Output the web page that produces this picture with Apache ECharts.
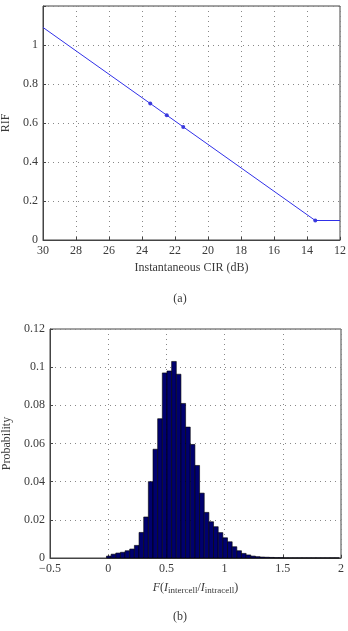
<!DOCTYPE html>
<html>
<head>
<meta charset="utf-8">
<script src="https://cdn.jsdelivr.net/npm/echarts@6/dist/echarts.min.js"></script>
<style>
  html, body { margin: 0; padding: 0; background: #fff; }
  #main { width: 348px; height: 631px; }
</style>
</head>
<body>
<div id="main"></div>
<script>
// (a) RIF against instantaneous CIR
var cirLine = [30, 23.5, 22.5, 21.5, 13.5, 12];
var rifLine = [1.09, 0.70, 0.64, 0.58, 0.10, 0.10];
var cirMarks = [23.5, 22.5, 21.5, 13.5];
var rifMarks = [0.70, 0.64, 0.58, 0.10];

// (b) histogram, bin width 0.04
var binWidth = 0.04;
var binCenters = [0.005, 0.045, 0.085, 0.125, 0.165, 0.205, 0.245, 0.285, 0.325, 0.365,
  0.405, 0.445, 0.485, 0.525, 0.565, 0.605, 0.645, 0.685, 0.725, 0.765,
  0.805, 0.845, 0.885, 0.925, 0.965, 1.005, 1.045, 1.085, 1.125, 1.165,
  1.205, 1.245, 1.285, 1.325, 1.365, 1.405, 1.445, 1.485, 1.525, 1.565,
  1.605, 1.645, 1.685, 1.725, 1.765, 1.805, 1.845, 1.885, 1.925, 1.965];
var probs = [0.0010, 0.0020, 0.0026, 0.0030, 0.0038, 0.0047, 0.0066, 0.0134, 0.0215, 0.0400,
  0.0570, 0.0730, 0.0970, 0.0980, 0.1030, 0.0963, 0.0810, 0.0686, 0.0595, 0.0485,
  0.0340, 0.0239, 0.0190, 0.0164, 0.0133, 0.0106, 0.0085, 0.0059, 0.0038, 0.0024,
  0.0016, 0.0010, 0.0007, 0.0005, 0.0004, 0.0003, 0.0002, 0.0002, 0.0001, 0.0001,
  0.0001, 0.0001, 0.0001, 0.0001, 0.0001, 0.0001, 0.0001, 0.0001, 0.0001, 0.0001];

var serif = '"Liberation Serif", "DejaVu Serif", serif';
var txt = '#3a3a3a';

function zip(a, b) {
  return a.map(function (v, i) { return [v, b[i]]; });
}

function fmt(v) {
  return String(parseFloat(v.toFixed(2))).replace('-', '\u2212');
}

var gridLine = { show: true, lineStyle: { color: '#888', type: [1, 4], width: 1 } };
var axLine = { show: true, onZero: false, lineStyle: { color: '#444', width: 1 } };
var tick = { show: true, inside: true, length: 3, lineStyle: { color: '#444' } };

var myChart = echarts.init(document.getElementById('main'));
var option = {
  animation: false,
  textStyle: { fontFamily: serif },
  title: [
    { text: '(a)', left: 175, top: 288, textAlign: 'center',
      textStyle: { fontFamily: serif, fontSize: 12, fontWeight: 'normal', color: txt } },
    { text: '(b)', left: 175, top: 606, textAlign: 'center',
      textStyle: { fontFamily: serif, fontSize: 12, fontWeight: 'normal', color: txt } }
  ],
  grid: [
    { left: 43, top: 6, width: 297, height: 234, show: true, borderColor: '#444', borderWidth: 1,
      outerBoundsMode: 'none', containLabel: false },
    { left: 50, top: 329, width: 291, height: 229, show: true, borderColor: '#444', borderWidth: 1,
      outerBoundsMode: 'none', containLabel: false }
  ],
  xAxis: [
    {
      gridIndex: 0, type: 'value', inverse: true, min: 12, max: 30, interval: 2,
      axisLine: axLine, axisTick: tick, splitLine: gridLine,
      axisLabel: { color: txt, fontSize: 12, margin: 5, fontFamily: serif },
      name: 'Instantaneous CIR (dB)', nameLocation: 'middle', nameGap: 22,
      nameTextStyle: { color: txt, fontSize: 12, fontFamily: serif }
    },
    {
      gridIndex: 1, type: 'value', min: -0.5, max: 2, interval: 0.5,
      axisLine: axLine, axisTick: tick, splitLine: gridLine,
      axisLabel: { color: txt, fontSize: 12, margin: 5, fontFamily: serif, formatter: fmt },
      name: '{i|F}({i|I}{s|intercell}/{i|I}{s|intracell})', nameLocation: 'middle', nameGap: 22,
      nameTextStyle: {
        color: txt, fontSize: 12, fontFamily: serif,
        rich: {
          i: { fontStyle: 'italic', fontSize: 12, fontFamily: serif, color: txt },
          s: { fontSize: 9, fontFamily: serif, color: txt, padding: [6, 0, 0, 0] }
        }
      }
    }
  ],
  yAxis: [
    {
      gridIndex: 0, type: 'value', min: 0, max: 1.2, interval: 0.2,
      axisLine: axLine, axisTick: tick, splitLine: gridLine,
      axisLabel: {
        color: txt, fontSize: 12, margin: 5, fontFamily: serif,
        formatter: function (v) { return v > 1.1 ? '' : fmt(v); }
      },
      name: 'RIF', nameLocation: 'middle', nameGap: 24,
      nameTextStyle: { color: txt, fontSize: 12, fontFamily: serif }
    },
    {
      gridIndex: 1, type: 'value', min: 0, max: 0.12, interval: 0.02,
      axisLine: axLine, axisTick: tick, splitLine: gridLine,
      axisLabel: { color: txt, fontSize: 12, margin: 5, fontFamily: serif, formatter: fmt },
      name: 'Probability', nameLocation: 'middle', nameGap: 30,
      nameTextStyle: { color: txt, fontSize: 12, fontFamily: serif }
    }
  ],
  series: [
    {
      type: 'line', xAxisIndex: 0, yAxisIndex: 0,
      data: zip(cirLine, rifLine), showSymbol: false,
      lineStyle: { color: '#3030e8', width: 1 }
    },
    {
      type: 'scatter', xAxisIndex: 0, yAxisIndex: 0,
      data: zip(cirMarks, rifMarks), symbol: 'circle', symbolSize: 4,
      itemStyle: { color: '#1010d0' }
    },
    {
      type: 'custom', xAxisIndex: 1, yAxisIndex: 1,
      data: zip(binCenters, probs),
      renderItem: function (params, api) {
        var c = api.value(0), p = api.value(1);
        var a = api.coord([c - binWidth / 2, p]);
        var b = api.coord([c + binWidth / 2, 0]);
        return {
          type: 'rect',
          shape: { x: a[0], y: a[1], width: b[0] - a[0], height: b[1] - a[1] },
          style: { fill: '#00006e', stroke: '#000', lineWidth: 0.6 }
        };
      }
    }
  ]
};
myChart.setOption(option);
</script>
</body>
</html>
